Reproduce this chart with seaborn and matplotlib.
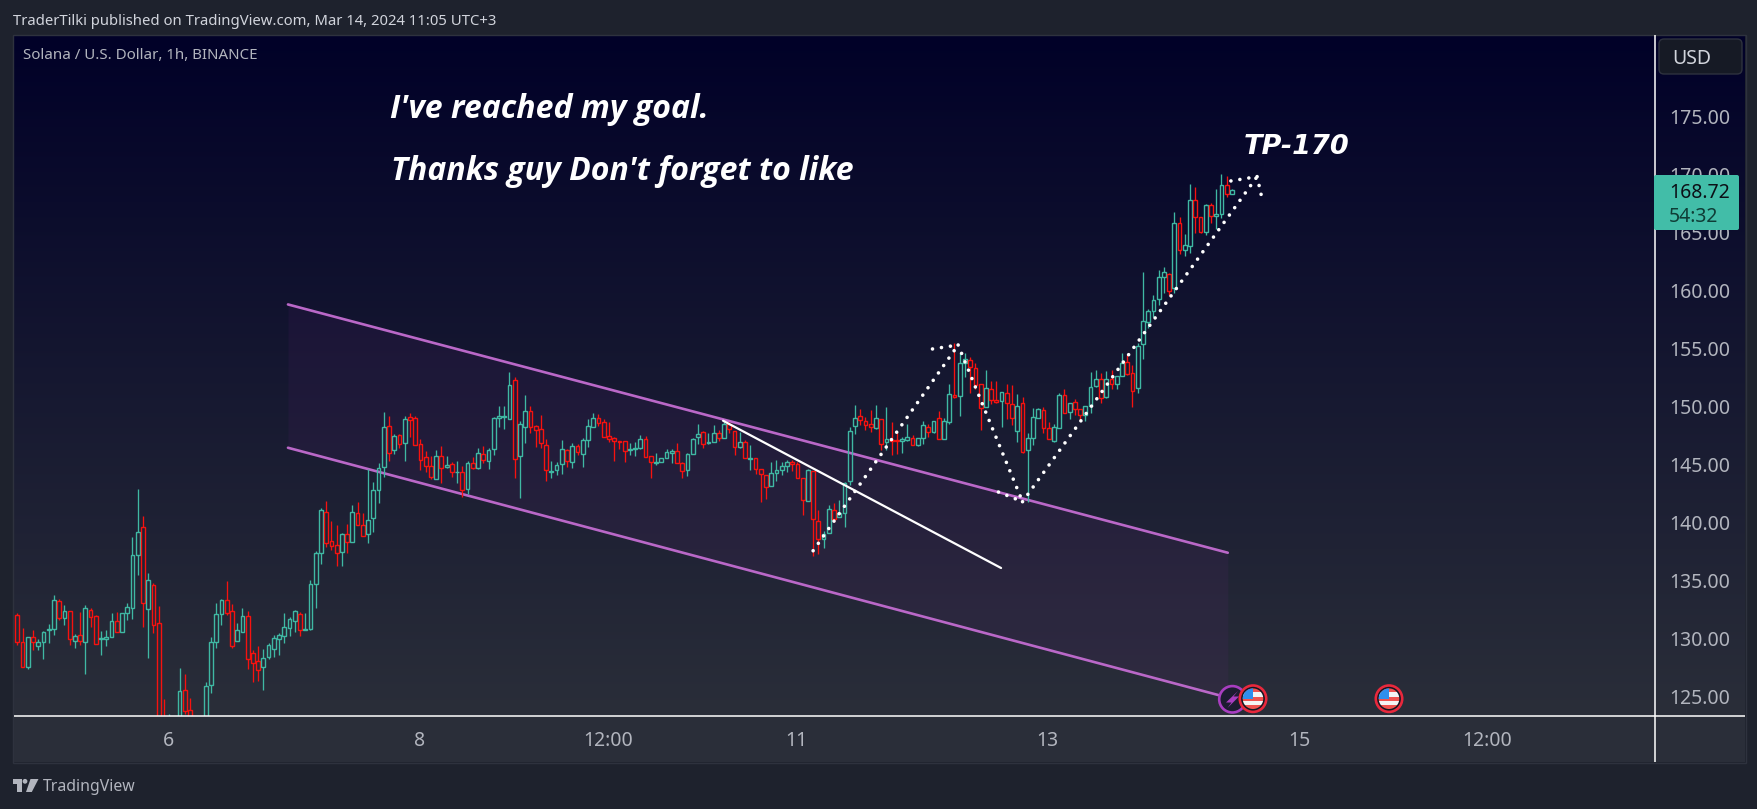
import numpy as np
import pandas as pd
import seaborn as sns
import matplotlib
matplotlib.use("Agg")
import matplotlib.pyplot as plt
from matplotlib.patches import Rectangle, Circle, Polygon, FancyBboxPatch
from matplotlib.colors import LinearSegmentedColormap

# ---------- data: hourly SOL/USD candles ----------
opens = [
132.23,129.97,127.76,130.34,129.62,129.91,131.00,131.03,133.43,132.03,
132.57,130.05,130.51,129.91,132.66,132.14,130.17,130.23,130.40,131.71,
130.83,132.40,132.83,137.38,139.78,132.74,134.80,131.54,123.2,121.5,
122.0,122.9,125.79,124.07,122.5,122.6,122.8,126.22,129.91,132.37,
133.52,132.57,130.05,130.83,132.14,128.97,128.28,127.76,128.62,129.31,
130.23,130.43,131.11,131.71,132.31,130.94,131.03,134.89,137.55,141.07,
138.58,138.24,137.64,139.18,138.49,140.98,139.95,139.24,140.55,142.96,
144.93,148.45,146.39,147.68,146.99,149.22,149.13,146.90,145.79,145.02,
143.96,145.87,144.93,145.19,144.50,144.50,143.04,145.27,144.84,146.05,
145.44,146.47,149.13,149.28,149.05,152.40,145.87,148.36,149.74,148.45,
148.19,146.82,144.56,144.67,145.19,146.39,145.36,146.73,146.05,147.25,
148.36,149.13,148.79,147.59,147.42,147.16,147.16,146.45,146.54,146.56,
147.33,145.87,145.33,145.36,145.70,146.13,146.30,145.27,144.67,146.05,
147.50,147.93,146.99,147.07,147.85,147.42,148.62,148.02,146.65,147.07,
145.68,145.70,144.76,144.24,143.30,144.41,144.67,145.02,145.36,145.19,
143.98,142.01,144.59,140.29,138.81,139.27,141.24,140.64,140.99,143.73,
148.45,149.31,148.88,148.62,148.28,149.05,147.08,147.25,147.25,147.17,
147.25,147.42,146.82,147.42,148.37,147.94,149.14,147.34,148.80,151.11,
151.03,153.86,154.12,153.43,152.06,150.08,151.63,150.68,150.60,151.29,
150.34,148.02,150.43,146.39,147.42,149.14,149.83,148.28,147.17,148.28,
151.11,149.65,150.51,149.91,149.40,150.17,151.89,152.49,150.94,152.49,
152.06,152.75,153.94,153.00,151.71,155.49,157.38,158.32,159.35,161.24,
161.50,160.30,165.88,163.56,163.90,167.85,166.39,165.10,167.42,166.48,
166.65,169.14,168.36]
highs = [
132.40,131.11,130.40,130.97,130.23,130.88,131.48,133.94,133.60,133.11,
132.57,130.63,132.51,133.11,132.83,132.23,130.88,130.97,132.40,132.51,
132.40,133.26,138.95,143.07,140.75,135.86,135.00,133.03,125.05,123.76,
123.4,127.71,127.19,125.13,123.3,123.3,126.51,130.34,133.26,133.60,
135.15,133.20,131.54,132.83,132.60,129.25,129.60,129.31,129.82,130.51,
130.68,132.40,132.06,132.69,132.51,132.40,135.23,137.72,141.41,142.01,
140.32,139.98,139.27,140.07,141.67,141.96,141.04,144.76,143.64,145.27,
149.68,149.34,147.79,147.76,149.34,149.56,149.31,147.36,146.30,145.87,
146.42,146.73,145.87,145.36,145.44,145.02,145.44,145.79,146.56,146.73,
146.56,149.22,150.19,150.19,153.08,152.65,148.88,151.11,150.19,148.53,
149.42,147.33,145.44,145.36,147.28,146.47,146.99,146.90,147.42,149.05,
149.56,149.48,149.05,148.79,147.50,147.16,147.16,146.99,147.07,147.68,
147.59,145.87,146.13,145.70,146.47,146.47,146.99,145.36,146.13,147.42,
148.62,148.02,147.85,148.53,148.10,148.79,148.79,148.02,147.93,147.25,
146.82,145.70,144.76,144.24,145.36,145.53,145.36,145.53,145.53,145.36,
143.98,144.76,144.59,141.24,139.50,141.67,141.84,142.10,143.65,148.37,
150.26,149.91,149.23,149.83,150.26,149.05,150.08,148.80,147.94,147.57,
148.63,147.68,147.42,148.88,148.62,148.88,149.74,149.14,152.06,155.58,
154.72,154.72,154.38,153.86,152.06,153.26,152.32,152.32,151.37,152.06,
151.97,151.20,150.94,147.85,150.00,150.00,150.08,148.80,148.62,151.29,
151.63,150.43,150.77,149.91,150.17,153.09,153.26,153.00,153.17,153.26,
152.75,154.72,154.55,153.69,155.58,161.67,158.49,159.72,161.84,162.10,
161.58,166.85,166.39,164.96,169.25,168.97,166.39,167.51,167.59,168.79,
170.11,169.91,168.79]
lows = [
129.68,127.76,127.65,129.25,129.25,128.48,129.88,130.54,131.83,131.40,
129.68,129.42,129.68,127.19,131.26,129.74,128.82,129.60,130.40,130.83,
130.83,131.83,131.91,135.69,131.23,128.59,130.74,122.0,121.5,121.0,
121.0,122.3,123.76,121.8,121.5,121.8,122.0,125.59,129.45,131.40,
132.29,129.45,130.05,130.83,127.65,126.53,126.59,125.85,128.45,128.68,
128.82,129.88,130.45,130.83,130.48,130.94,130.94,132.86,136.66,138.12,
137.84,136.46,136.46,137.58,138.49,139.95,139.01,138.46,139.38,141.90,
144.13,145.50,146.07,146.62,145.50,147.56,146.82,144.73,144.56,143.90,
143.96,143.56,144.84,144.07,143.56,142.35,142.61,144.76,144.76,145.27,
144.76,146.02,148.36,148.19,149.05,144.04,142.33,146.99,147.85,146.65,
146.56,143.78,143.98,144.30,144.33,144.96,144.84,145.96,144.93,146.70,
148.36,148.48,147.50,147.07,145.50,146.53,145.39,145.96,145.90,146.50,
145.79,144.04,145.10,145.36,145.70,145.27,145.27,144.04,144.21,146.05,
146.90,146.56,146.90,147.07,147.16,147.42,147.85,146.02,146.56,145.70,
144.67,144.33,141.93,142.18,143.30,143.73,144.24,144.50,144.60,143.98,
140.81,142.01,137.35,137.46,138.01,139.27,140.27,140.64,139.84,143.42,
147.80,148.54,148.14,147.97,148.20,146.42,146.39,145.99,146.05,146.16,
147.17,146.82,146.77,146.91,147.51,147.85,147.34,147.34,148.62,150.86,
149.34,152.66,151.29,151.69,148.11,150.08,150.34,150.43,148.37,149.11,
148.54,147.14,146.14,141.93,146.82,149.14,147.85,147.34,147.08,148.28,
149.57,149.11,149.40,148.94,148.91,149.57,151.80,150.43,150.86,151.63,
151.63,152.75,152.86,150.14,151.29,154.26,156.86,157.86,158.84,159.87,
159.75,159.87,163.27,163.10,163.30,165.02,165.02,164.90,165.93,165.36,
166.30,168.16,168.36]
closes = [
129.91,127.76,130.40,129.91,129.97,130.77,131.03,133.52,132.03,132.57,
130.23,130.43,130.00,132.83,132.06,129.74,130.25,130.34,131.71,130.83,
132.40,132.91,137.38,139.35,133.26,135.23,131.37,122.6,122.4,123.2,
123.0,125.71,123.99,122.5,123.0,123.2,126.16,129.91,132.31,133.52,
132.46,129.62,130.94,132.14,128.45,128.11,127.51,128.54,129.65,130.25,
130.51,131.20,131.88,132.57,130.94,131.03,134.89,137.55,141.24,138.41,
138.21,137.55,139.18,138.49,141.07,139.95,139.01,140.38,142.96,144.84,
148.36,146.13,147.59,146.90,149.05,148.96,146.82,145.53,145.02,144.07,
145.87,144.84,145.10,144.50,144.55,142.96,145.27,144.84,146.13,145.53,
146.39,149.13,149.31,149.31,151.97,145.62,148.62,149.74,148.36,148.10,
146.99,144.67,144.60,145.10,146.47,145.44,146.73,146.22,147.25,148.45,
149.13,148.71,147.50,147.33,147.16,147.13,146.30,146.47,146.56,147.33,
145.79,145.36,145.36,145.70,146.22,146.30,145.27,144.59,146.05,147.33,
147.76,146.90,147.07,147.85,147.42,148.62,148.19,146.65,147.07,145.70,
145.70,144.76,144.33,143.21,144.41,144.67,145.02,145.36,145.19,143.98,
142.10,144.67,140.47,138.75,139.18,141.33,140.47,140.99,143.56,148.02,
149.14,149.03,148.54,148.37,149.14,146.91,147.34,147.22,147.22,147.34,
147.51,146.82,147.42,148.54,147.94,148.88,147.34,148.88,151.20,150.94,
153.86,154.20,153.52,151.97,150.00,151.71,150.68,150.51,151.37,150.43,
149.14,150.17,146.22,147.42,149.23,149.91,148.28,147.34,148.37,151.11,
149.57,150.43,149.91,149.40,150.17,151.80,152.49,150.86,152.49,152.06,
152.75,153.86,152.92,151.46,155.32,157.46,158.32,159.27,161.24,161.67,
160.04,165.88,163.56,163.99,167.85,166.39,165.10,167.42,166.48,166.65,
169.14,168.36,168.71]

price_ticks = [125, 130, 135, 140, 145, 150, 155, 160, 165, 170, 175]
time_ticks = [28.8, 76.8, 112.8, 148.8, 196.8, 244.8, 280.8]
time_labels = ["6", "8", "12:00", "11", "13", "15", "12:00"]

channel_x = [51.7, 231.2]
channel_upper = [158.91, 137.60]
channel_lower = [146.61, 125.17]
trend_x = [134.8, 187.9]
trend_y = [148.93, 136.29]
dotted_legs = [
    ([152.0, 179.7], [137.77, 155.43]),
    ([174.8, 179.7], [155.09, 155.43]),
    ([179.7, 192.0], [155.43, 141.98]),
    ([187.4, 192.0], [142.81, 141.98]),
    ([192.0, 236.8], [141.98, 169.88]),
    ([231.8, 236.8], [169.51, 169.88]),
    ([236.8, 237.9], [169.88, 167.68]),
]
last_price = "168.72"
countdown = "54:32"

# The readings above were taken with a slightly coarse price scale; this fine-tunes
# them to the scale the price-axis labels actually show.
def scale_fix(p):
    return 175 - (0.3 + (175 - np.asarray(p, dtype=float)) * 11.65) / 11.6

# ---------- theme / colours ----------
BG = "#1e222d"
PANEL = "#2a2e39"
UP = "#3fb8a3"
DOWN = "#f7120f"
sns.set_theme(style="dark", rc={"figure.facecolor": BG, "axes.facecolor": "none",
                                "axes.grid": False, "savefig.facecolor": BG})
plt.rcParams["font.family"] = ["Noto Sans", "DejaVu Sans"]

W, H = 1758, 809
fig = plt.figure(figsize=(W / 100, H / 100), dpi=100)

def px_axes(z):
    a = fig.add_axes([0, 0, 1, 1], zorder=z)
    a.set_xlim(0, W); a.set_ylim(H, 0); a.axis("off")
    return a

# background layer: gradient, time-axis panel
bg = px_axes(0)
cmap = LinearSegmentedColormap.from_list("g", ["#010128", "#2a2e39"])
bg.imshow(np.linspace(0, 1, 256)[:, None], cmap=cmap, aspect="auto",
          extent=(14, 1745, 716, 35), zorder=1)
bg.set_xlim(0, W); bg.set_ylim(H, 0)
bg.add_patch(Rectangle((14, 716), 1731, 46, fc=PANEL, ec="none", zorder=1))
bg.add_patch(Rectangle((13, 34.5), 1733, 728, fc="none", ec="#2e323e", lw=1, zorder=2))

# main chart axes
L, R, T, B = 14, 1655, 35, 716
ax = fig.add_axes([L / W, 1 - B / H, (R - L) / W, (B - T) / H], zorder=1)
ax.patch.set_alpha(0)
ax.set_xlim(-0.63, 312.8)
ax.set_ylim(123.34, 182.04)
for s in ax.spines.values():
    s.set_visible(False)

df = pd.DataFrame({"i": np.arange(len(opens)), "open": scale_fix(opens), "high": scale_fix(highs),
                   "low": scale_fix(lows), "close": scale_fix(closes)})
df["top"] = df[["open", "close"]].max(axis=1)
df["bot"] = df[["open", "close"]].min(axis=1)
df["color"] = np.where(df["close"] >= df["open"], UP, DOWN)

# channel
up_y, lo_y = scale_fix(channel_upper), scale_fix(channel_lower)
ax.fill_between(channel_x, lo_y, up_y, color="#9c27b0", alpha=0.065, lw=0, zorder=1)
for yy in (up_y, lo_y):
    sns.lineplot(x=channel_x, y=yy, color="#ba68c8", lw=1.9, ax=ax, zorder=2,
                 estimator=None, sort=False, legend=False)

# candles
ax.vlines(df["i"], df["top"], df["high"], colors=df["color"], lw=0.95, zorder=3)
ax.vlines(df["i"], df["low"], df["bot"], colors=df["color"], lw=0.95, zorder=3)
ax.bar(df["i"], (df["top"] - df["bot"]).clip(lower=0.03), bottom=df["bot"], width=0.72,
       facecolor="none", edgecolor=df["color"], linewidth=1.0, zorder=3)

# white trend line and dotted path
sns.lineplot(x=trend_x, y=scale_fix(trend_y), color="white", lw=1.6, ax=ax, zorder=4,
             estimator=None, sort=False, legend=False)
for xs, ys in dotted_legs:
    sns.lineplot(x=xs, y=scale_fix(ys), color="white", lw=2.6, ax=ax, zorder=5, estimator=None,
                 sort=False, legend=False, linestyle=(0, (0.01, 2.5)), dash_capstyle="round")

# axes ticks
ax.yaxis.tick_right()
ax.set_yticks(price_ticks)
ax.set_yticklabels([f"{p:.2f}" for p in price_ticks], fontsize=14, color="#b2b5be")
ax.set_xticks(time_ticks)
ax.set_xticklabels(time_labels, fontsize=14, color="#b2b5be")
ax.tick_params(axis="both", length=0)
ax.tick_params(axis="y", pad=10)
ax.tick_params(axis="x", pad=10.5)
ax.set_xlabel(""); ax.set_ylabel("")

# overlay layer in pixels
ui = px_axes(2)
ui.plot([14, 1745], [716, 716], color="white", lw=1.1, solid_capstyle="butt")
ui.plot([1655, 1655], [35, 762], color="white", lw=1.1, solid_capstyle="butt")

# price tag
ui.add_patch(FancyBboxPatch((1654, 175), 85, 55, boxstyle="round,pad=0,rounding_size=2",
                            fc="#42bda8", ec="none", zorder=3))
ui.text(1669, 197.5, last_price, color="#0c1017", fontsize=14, zorder=4, va="baseline")
ui.text(1669, 222, countdown, color="#0f3d36", fontsize=14, zorder=4, va="baseline")

# USD button
ui.add_patch(FancyBboxPatch((1659, 39), 83, 35, boxstyle="round,pad=0,rounding_size=5",
                            fc="#161a25", ec="#2e323e", lw=1, zorder=3))
ui.text(1672, 63.5, "USD", color="#d1d4dc", fontsize=14, zorder=4, va="baseline")

# header and title
ui.text(13, 25, "TraderTilki published on TradingView.com, Mar 14, 2024 11:05 UTC+3",
        color="#d1d4dc", fontsize=10.7, va="baseline")
ui.text(23, 59, "Solana / U.S. Dollar, 1h, BINANCE", color="#b2b5be", fontsize=10.85, va="baseline")

# big annotations
ui.text(390, 118, "I've reached my goal.", color="white", fontsize=23,
        family="Open Sans", weight="bold", style="italic", va="baseline")
ui.text(391, 180, "Thanks guy Don't forget to like", color="white", fontsize=23,
        family="Open Sans", weight="bold", style="italic", va="baseline")
ui.text(1244, 154, "TP-170", color="white", fontsize=19.5,
        family="DejaVu Sans", weight="bold", style="italic", va="baseline")

# event icons
def flag(cx, cy, z):
    ring = Circle((cx, cy), 13.2, fc="#131722", ec="#e8283c", lw=1.9, zorder=z)
    ui.add_patch(ring)
    clip = Circle((cx, cy), 10.3, transform=ui.transData)
    for k in range(5):
        c = "#f05350" if k % 2 == 0 else "#f4f4f4"
        p = Rectangle((cx - 11, cy - 11 + k * 4.4), 22, 4.4, fc=c, ec="none", zorder=z + 0.1)
        ui.add_patch(p); p.set_clip_path(clip)
    p = Rectangle((cx - 11, cy - 11), 11, 11, fc="#2f8fee", ec="none", zorder=z + 0.2)
    ui.add_patch(p); p.set_clip_path(clip)

ui.add_patch(Circle((1232.4, 699.3), 13.2, fc="#1c1c30", ec="#a83ec0", lw=1.9, zorder=5))
ui.add_patch(Polygon([(1238, 691), (1226, 702.5), (1231.5, 702.5), (1227.5, 708), (1239, 696.5), (1233.5, 696.5)],
                     closed=True, fc="#a83ec0", ec="none", zorder=6))
flag(1253, 698.7, 7)
flag(1389, 698.7, 7)

# footer logo
c = "#b2b5be"
ui.add_patch(Polygon([(13, 779), (22, 779), (22, 792), (17.3, 792), (17.3, 783.5), (13, 783.5)],
                     closed=True, fc=c, ec="none"))
ui.add_patch(Circle((25, 781.3), 2.4, fc=c, ec="none"))
ui.add_patch(Polygon([(30.5, 779), (38.5, 779), (31.8, 792), (26, 792)], closed=True, fc=c, ec="none"))
ui.text(43, 791, "TradingView", color=c, fontsize=11.4, weight="bold", va="baseline")

fig.savefig("out.png", dpi=100)
